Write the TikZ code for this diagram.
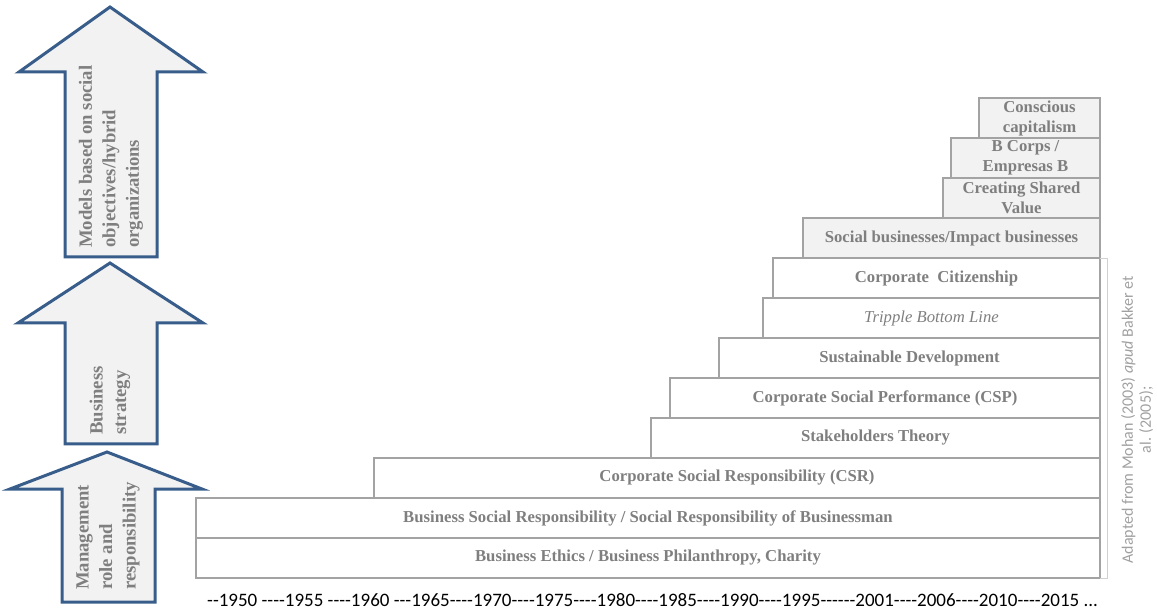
\documentclass[tikz,border=0pt]{standalone}
\usepackage{fontspec}
\setmainfont{Liberation Serif}
\newfontfamily\carlito[Ligatures=TeXOff]{Carlito}
\usetikzlibrary{positioning}
\definecolor{arrowblue}{RGB}{56,93,138}
\definecolor{boxfill}{RGB}{242,242,242}
\definecolor{boxline}{RGB}{163,163,163}
\definecolor{labelgray}{RGB}{127,127,127}
\definecolor{notegray}{RGB}{160,160,160}

\begin{document}
\begin{tikzpicture}[
  x=1pt, y=-1pt,
  era/.style = {
    rectangle, draw=boxline, line width=2.8pt, outer sep=0pt, inner sep=0pt,
    minimum height=40pt, anchor=south east, align=center,
    font=\fontsize{16.7}{20}\selectfont\bfseries, text=labelgray
  },
  newera/.style = {era, fill=boxfill},
  stage/.style = {draw=arrowblue, line width=3pt, fill=boxfill, line join=miter},
  stagetext/.style = {
    rotate=90, anchor=west, align=left, inner sep=0pt,
    font=\fontsize{18.7}{23.5}\selectfont\bfseries, text=labelgray
  }
]
\useasboundingbox (0,0) rectangle (1157,609);

% stages
\draw[stage] (110,7) -- (203,72) -- (157,72) -- (157,257) -- (65,257) -- (65,72) -- (19,72) -- cycle;
\draw[stage] (110,263) -- (203,323) -- (157,323) -- (157,444) -- (65,444) -- (65,323) -- (18,323) -- cycle;
\draw[stage] (107,452) -- (202,489) -- (155,489) -- (155,602) -- (62,602) -- (62,489) -- (10,489) -- cycle;
\node[stagetext] (hybrid) at (111,248) {Models based on social\\objectives/hybrid\\organizations};
\node[stagetext] (strategy) at (110,435) {Business\\strategy};
\node[stagetext] (mgmt) at (108,590) {Management\\role and\\responsibility};

% eras
\node[era, minimum width=904pt] (ethics) at (1100,578) {Business Ethics / Business Philanthropy, Charity};
\node[era, minimum width=904pt] (bsr) at (ethics.north east) {Business Social Responsibility / Social Responsibility of Businessman};
\node[era, minimum width=726pt] (csr) at (bsr.north east) {Corporate Social Responsibility (CSR)};
\node[era, minimum width=449pt] (stake) at (csr.north east) {Stakeholders Theory};
\node[era, minimum width=430pt] (csp) at (stake.north east) {Corporate Social Performance (CSP)};
\node[era, minimum width=381pt] (sd) at (csp.north east) {Sustainable Development};
\node[era, minimum width=337pt] (tbl) at (sd.north east) {\mdseries\itshape Tripple Bottom Line};
\node[era, minimum width=327pt] (cc) at (tbl.north east) {Corporate\ \ Citizenship};
\node[newera, minimum width=297pt] (sbib) at (cc.north east) {Social businesses/Impact businesses};
\node[newera, minimum width=157pt] (csv) at (sbib.north east) {Creating Shared\\Value};
\node[newera, minimum width=149pt] (bcorp) at (csv.north east) {B Corps /\\Empresas B};
\node[newera, minimum width=121pt] (consc) at (bcorp.north east) {Conscious\\capitalism};

% source
\draw[boxline!50, line width=0.8pt] (cc.north east) -- ++(7,0) |- (ethics.south east);
\node[rotate=90, align=center, inner sep=0pt, text=notegray,
  font=\carlito\fontsize{16}{18}\selectfont] (note) at (1137,420)
  {Adapted from Mohan (2003) \textit{apud} Bakker et\\al. (2005);};

% timeline
\node[anchor=base west, inner sep=0pt, font=\carlito\fontsize{19}{22}\selectfont] (years) at (207,606)
  {--1950 ----1955 ----1960 ---1965----1970----1975----1980----1985----1990----1995------2001----2006----2010----2015 ...};
\end{tikzpicture}
\end{document}
